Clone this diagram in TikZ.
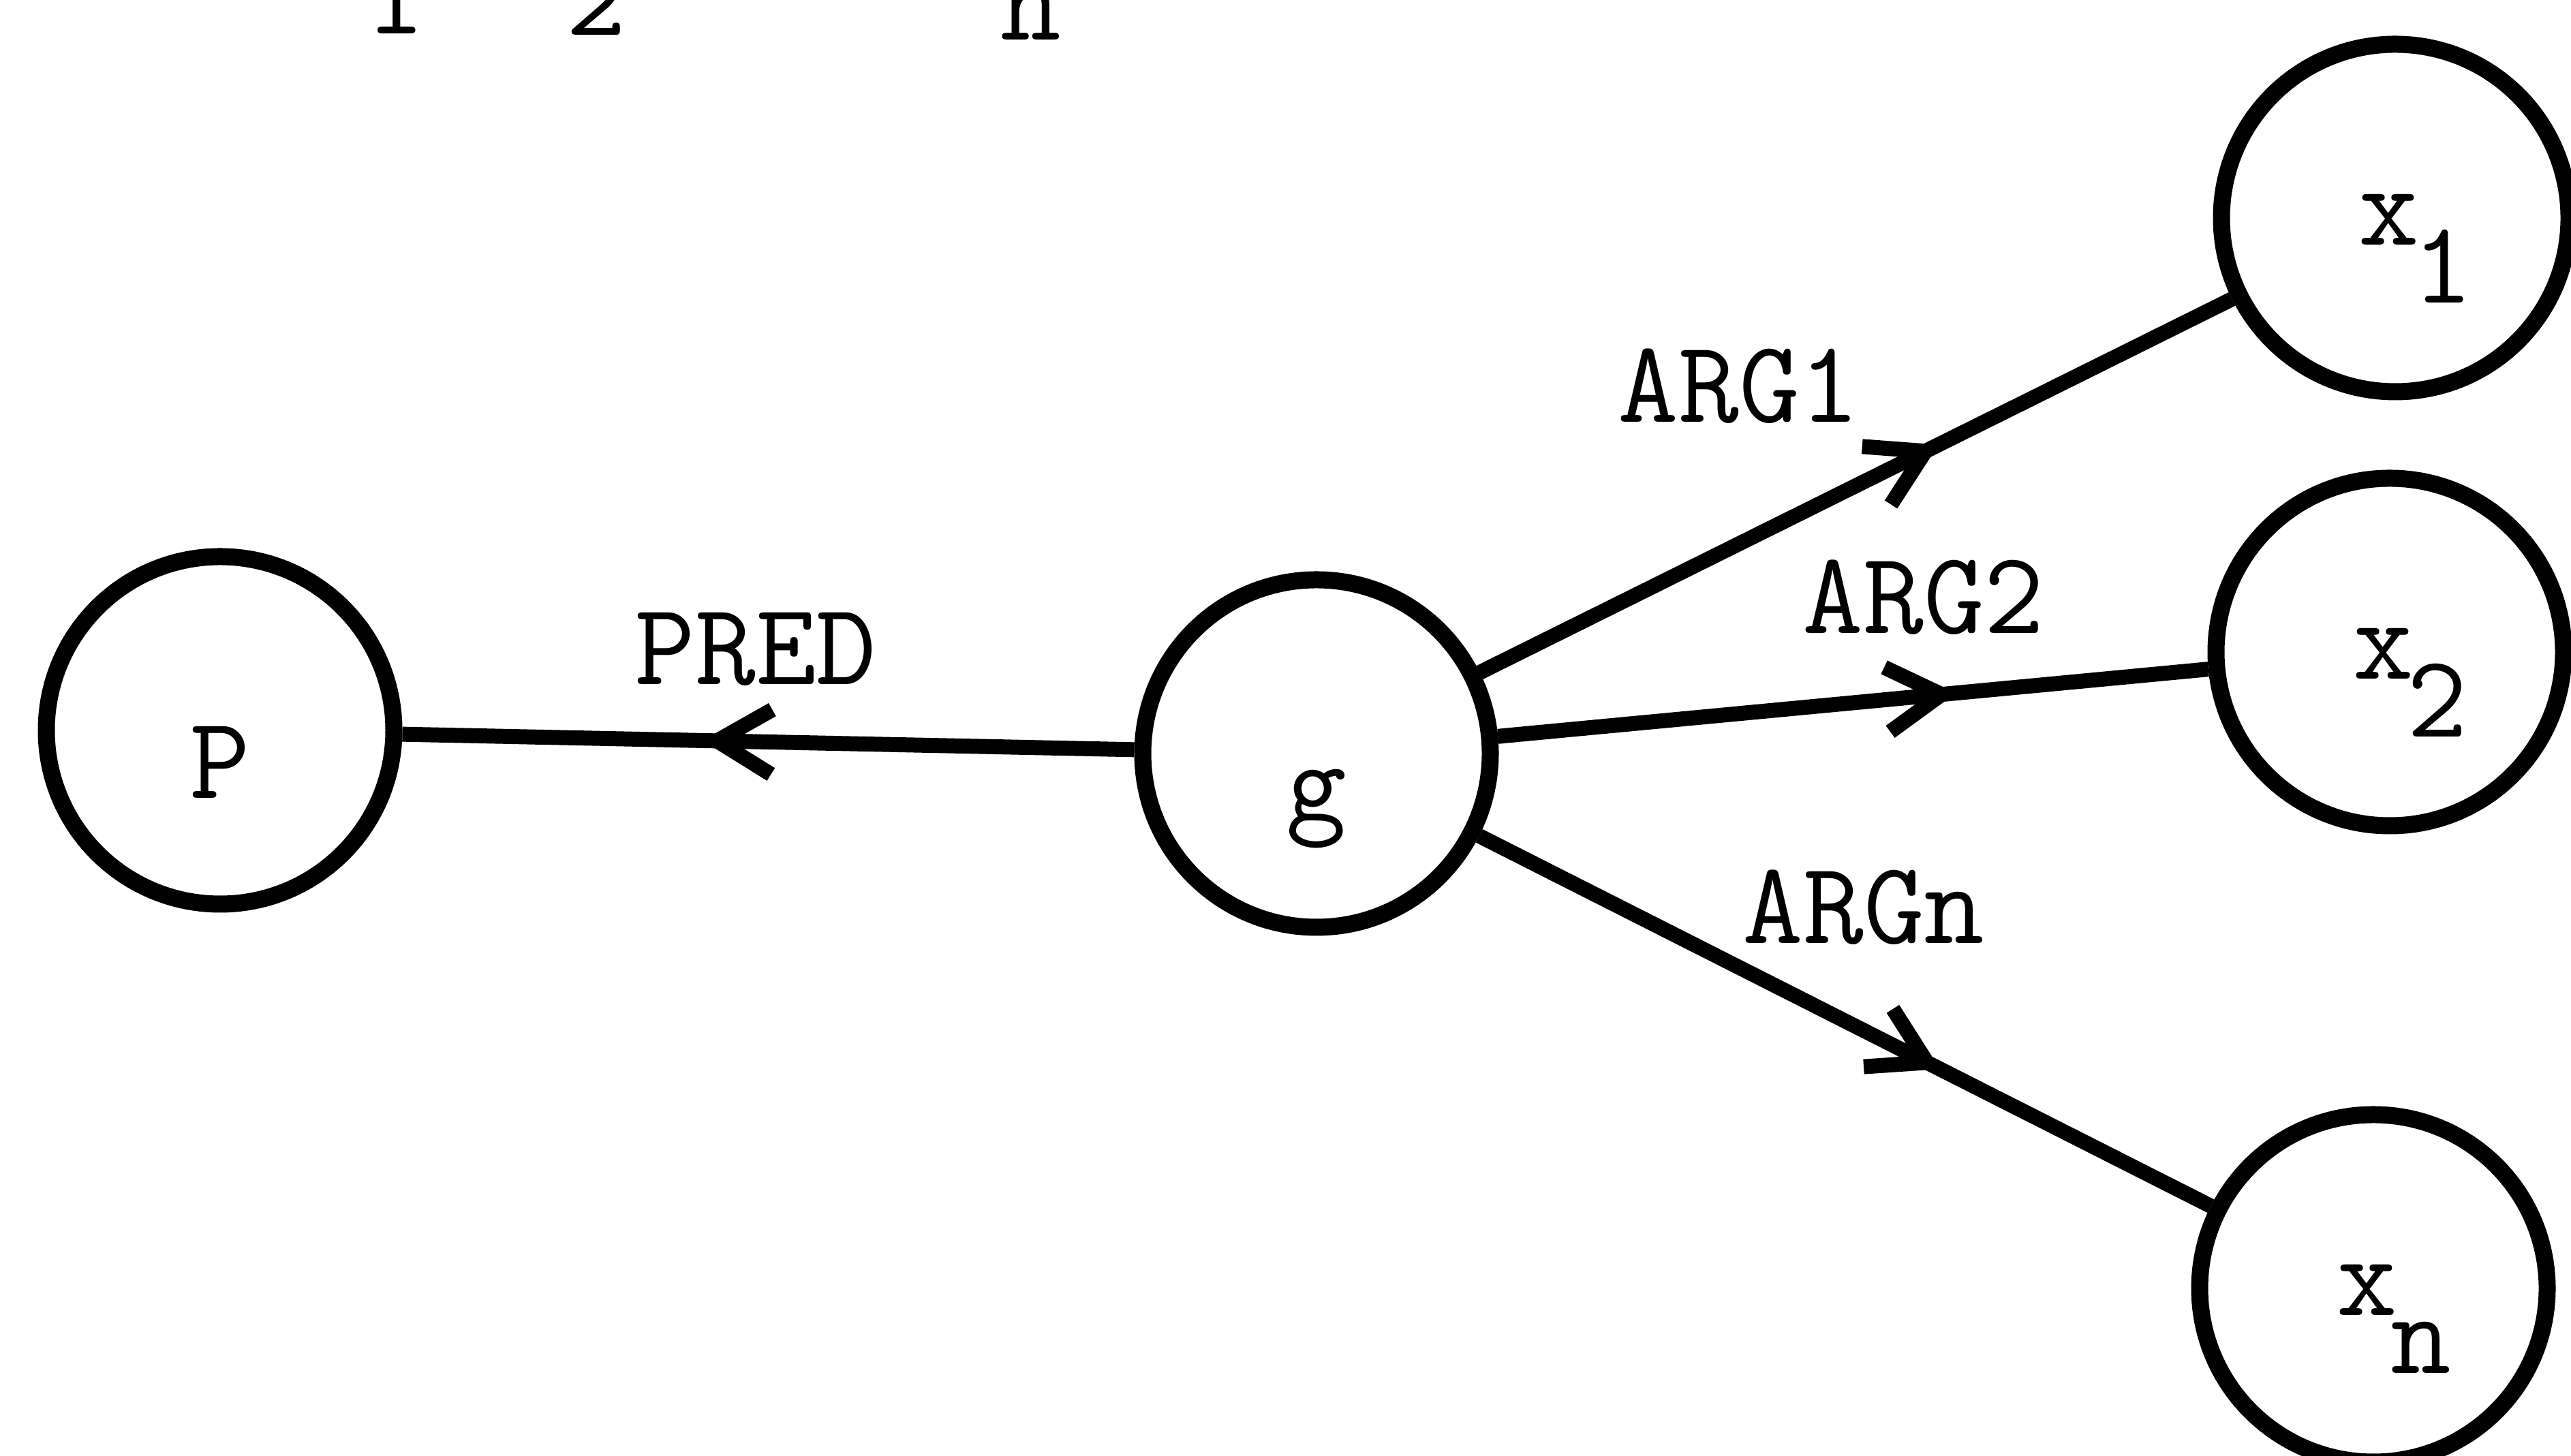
\documentclass[tikz,border=0pt]{standalone}
\usepackage{tikz}
\usetikzlibrary{arrows.meta,decorations.markings}
\tikzset{
    arg-node/.style = {draw, circle, line width=0.25cm, minimum size=5.1cm, inner sep=0pt, font=\fontsize{49pt}{59pt}\selectfont\ttfamily, text height=2.0cm, text depth=0pt},
    var-node/.style = {arg-node, text height=0.8cm},
    rel-edge/.style = {line width=0.22cm, postaction={decorate, decoration={markings, mark=at position #1 with {\arrow{Straight Barb[length=0.8cm, width=0.95cm]}}}}},
    rel-label/.style = {font=\fontsize{49pt}{59pt}\selectfont\ttfamily, anchor=base, inner sep=0pt},
}
\newcommand{\sublow}[1]{\kern-0.1cm\raisebox{-0.85cm}{#1}}
\begin{document}
\begin{tikzpicture}
\useasboundingbox (0,0) rectangle (37.73,21.37);
% subscripts of the line above, cut off at the top
\node[rel-label] (sub-one) at (5.80,20.87) {1};
\node[rel-label] (sub-two) at (8.75,20.85) {2};
\node[rel-label] (sub-n) at (15.13,20.78) {n};
% nodes
\node[arg-node] (P) at (3.23,10.65) {P};
\node[arg-node] (g) at (19.32,10.31) {g};
\node[var-node] (x1) at (35.15,18.17) {\hspace*{0.6cm}x\sublow{1}};
\node[var-node] (x2) at (35.07,11.80) {\hspace*{0.6cm}x\sublow{2}};
\node[var-node] (xn) at (34.83,2.46) {\hspace*{0.6cm}x\sublow{n}};
% edges
\draw[rel-edge=0.59] (g) -- (P);
\draw[rel-edge=0.61] (g) -- (x1);
\draw[rel-edge=0.645] (g) -- (x2);
\draw[rel-edge=0.63] (g) -- (xn);
\node[rel-label] (pred) at (11.09,11.32) {PRED};
\node[rel-label] (arg-one) at (25.52,15.17) {ARG1};
\node[rel-label] (arg-two) at (28.23,12.07) {ARG2};
\node[rel-label] (arg-n) at (27.35,7.52) {ARGn};
\end{tikzpicture}
\end{document}
